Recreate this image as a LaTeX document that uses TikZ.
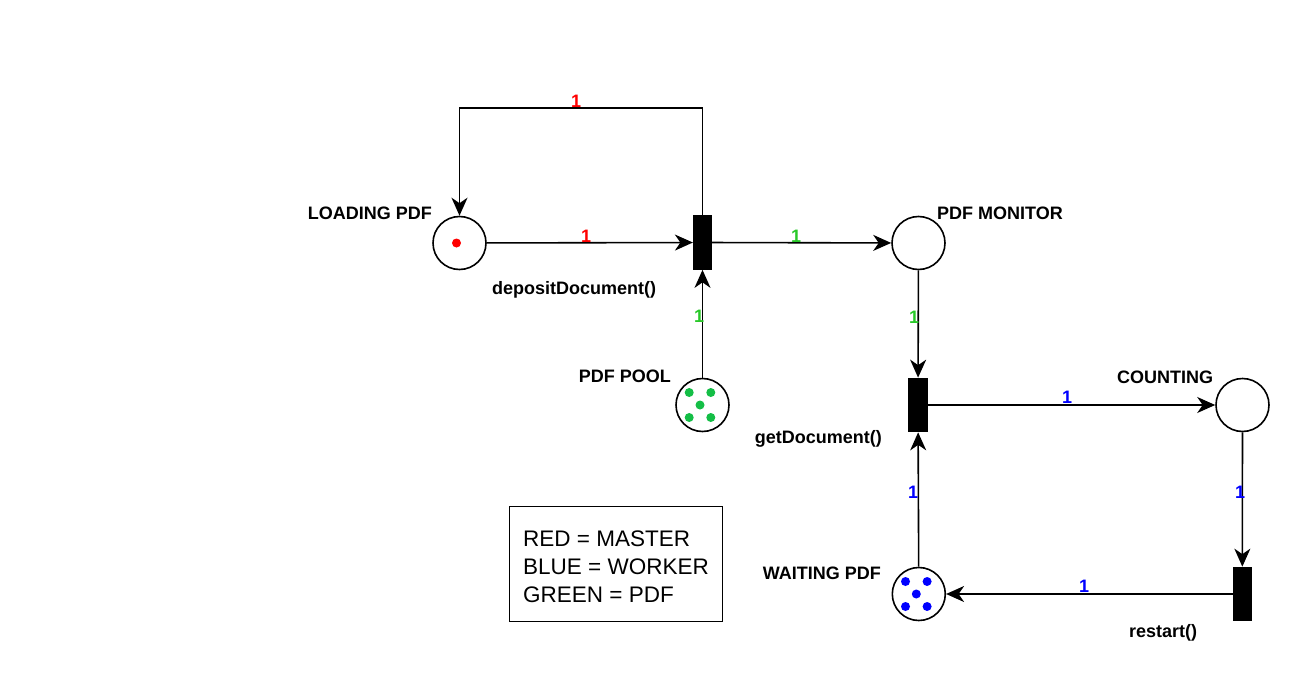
\documentclass[tikz,border=0pt]{standalone}
\usepackage{fontspec}
\setmainfont{Liberation Sans}
\usetikzlibrary{arrows.meta}
\definecolor{pnred}{RGB}{255,0,0}
\definecolor{pndot}{RGB}{20,190,70}
\definecolor{pngreen}{RGB}{40,200,40}
\definecolor{pnblue}{RGB}{0,0,255}
\begin{document}
\begin{tikzpicture}[x=1pt,y=-1pt,
  place/.style={circle, draw, line width=1.6pt, minimum size=53pt, inner sep=0pt, fill=white},
  trans/.style={rectangle, draw, fill=black, line width=1.2pt, minimum width=18pt, minimum height=53.5pt, inner sep=0pt},
  lbl/.style={font=\fontsize{18}{20}\selectfont\bfseries, inner sep=0pt},
  wt/.style={font=\fontsize{18}{20}\selectfont\bfseries, inner sep=0pt},
  arc/.style={-{Stealth[length=18pt,width=16pt,inset=5.5pt]}, line width=1.6pt},
  tok/.style={radius=4.5pt}]
\useasboundingbox (0,0) rectangle (1294,680);

% places and transitions
\node[place] (load) at (459.5,243) {};
\node[trans] (t1) at (702.5,242.5) {};
\node[place] (mon) at (918.5,243) {};
\node[place] (pool) at (702.5,405) {};
\node[trans] (t2) at (918,405) {};
\node[place] (count) at (1242.5,405) {};
\node[trans] (t3) at (1242.3,594) {};
\node[place] (wait) at (918.8,594) {};

% tokens
\fill[pnred] ([shift={(-3,0)}]load.center) circle[tok];
\foreach \dx/\dy in {-10.8/-12.5, 10.8/-12.5, 0/0, -10.8/12.5, 10.8/12.5}{
  \fill[pndot] ([shift={(\dx-2.5,\dy)}]pool.center) circle[tok];
  \fill[pnblue] ([shift={(\dx-2.5,\dy)}]wait.center) circle[tok];
}

% text labels
\node[lbl, anchor=base east] (lload) at (432,219) {LOADING PDF};
\node[lbl, anchor=base west] (lmon) at (937,219) {PDF MONITOR};
\node[lbl, anchor=base] (ldep) at (574,294) {depositDocument()};
\node[lbl, anchor=base east] (lpool) at (671,382) {PDF POOL};
\node[lbl, anchor=base west] (lcount) at (1117,383) {COUNTING};
\node[lbl, anchor=base east] (lget) at (882,443) {getDocument()};
\node[lbl, anchor=base] (lrest) at (1163,637) {restart()};
\node[lbl, anchor=base east] (lwait) at (881,579) {WAITING PDF};

% arcs
\coordinate (loop) at (576,108);
\draw[arc] (t1.north) |- (loop) -| (load.north);
\draw[arc] (load) -- (t1);
\draw[arc] (t1) -- (mon);
\draw[arc] (pool) -- (t1);
\draw[arc] (mon) -- (t2);
\draw[arc] (t2) -- (count);
\draw[arc] (count) -- (t3);
\draw[arc] (t3) -- (wait);
\draw[arc] (wait) -- (t2);

% arc weights
\node[wt, text=pnred] (w1) at (576,101) {1};
\node[wt, text=pnred] (w2) at (586,236) {1};
\node[wt, text=pngreen] (w3) at (796,236) {1};
\node[wt, text=pngreen] (w4) at (699,316) {1};
\node[wt, text=pngreen] (w5) at (914,317) {1};
\node[wt, text=pnblue] (w6) at (1067,397) {1};
\node[wt, text=pnblue] (w7) at (1240,492) {1};
\node[wt, text=pnblue] (w8) at (913,492) {1};
\node[wt, text=pnblue] (w9) at (1084,586) {1};

% legend
\node[draw, line width=1.5pt, minimum width=213pt, minimum height=115pt, align=left,
  font=\fontsize{22.5}{28}\selectfont, inner sep=0pt] (legend) at (616,564)
  {\rule{0pt}{21pt}RED = MASTER\\BLUE = WORKER\\GREEN = PDF};
\end{tikzpicture}
\end{document}
